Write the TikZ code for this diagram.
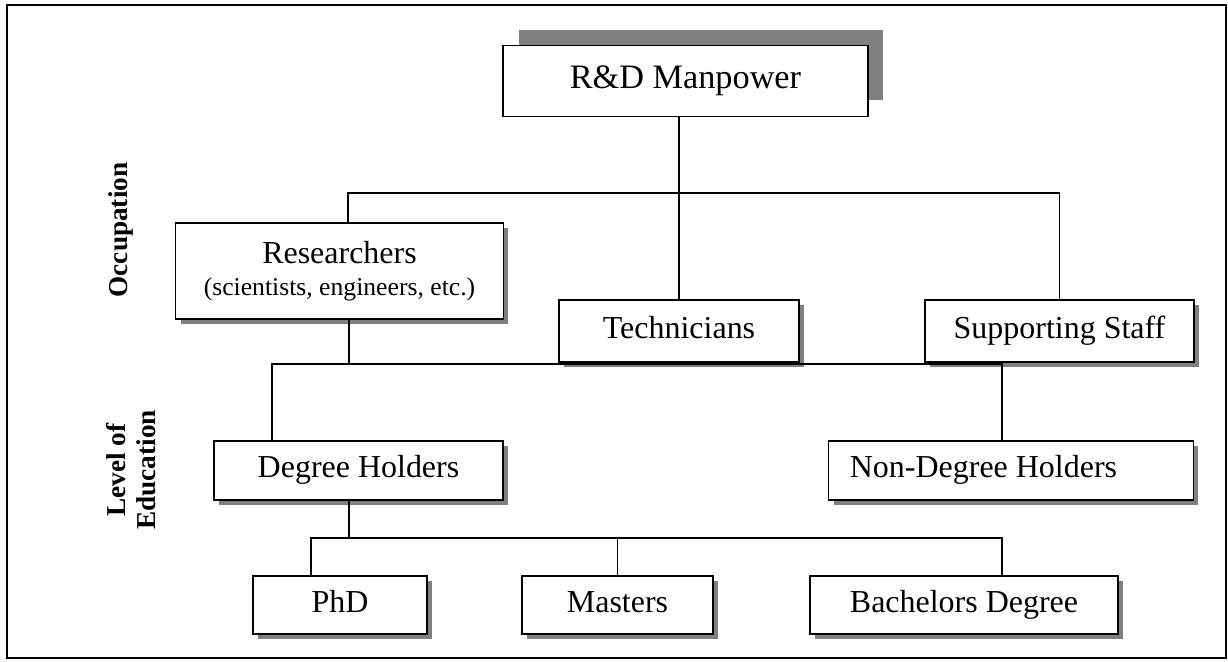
\documentclass[tikz,border=0pt]{standalone}
\usepackage{fontspec}
\setmainfont{Liberation Serif}
\usetikzlibrary{positioning, shadows}

\begin{document}
\begin{tikzpicture}[
		x=0.02cm, y=-0.02cm,
		boxbase/.style={draw, line width=0.9pt, fill=white, align=center, inner sep=0pt,
			font=\fontsize{18.2}{21}\selectfont},
		unit/.style={boxbase, drop shadow={shadow xshift=0.1cm, shadow yshift=-0.1cm, fill=black!50, opacity=1}},
		topunit/.style={boxbase, drop shadow={shadow xshift=0.31cm, shadow yshift=0.32cm, fill=black!50, opacity=1}},
		link/.style={line width=0.7pt},
		sidelabel/.style={rotate=90, align=center, font=\bfseries\fontsize{15.5}{17}\selectfont}
		]
		\useasboundingbox (0,0) rectangle (1228,662);
		% frame
		\draw[line width=1.1pt] (7,5) rectangle (1226,658);
		
		% top
		\node[topunit, minimum width=7.3cm, minimum height=1.42cm, font=\fontsize{19.5}{22}\selectfont] (rd) at (685.5,81) {\strut R\&D Manpower};
		
		% occupation level
		\node[unit, minimum width=6.56cm, minimum height=1.92cm] (res) at (339.5,271)
			{\strut Researchers\\[-3pt]{\fontsize{14.6}{17}\selectfont\strut(scientists, engineers, etc.)}};
		\node[unit, minimum width=4.8cm, minimum height=1.24cm] (tech) at (679,331) {\strut Technicians};
		\node[unit, minimum width=5.38cm, minimum height=1.24cm] (sup) at (1059.5,331) {\strut Supporting Staff};
		
		% education level
		\node[unit, minimum width=5.78cm, minimum height=1.18cm] (deg) at (358.5,470.5) {\strut Degree Holders};
		\node[unit, minimum width=7.3cm, minimum height=1.18cm] (nondeg) at (1011,470.5) {\strut Non-Degree Holders\hspace{1.1cm}};
		
		% degrees
		\node[unit, minimum width=3.48cm, minimum height=1.16cm] (phd) at (340,605) {\strut PhD};
		\node[unit, minimum width=3.82cm, minimum height=1.16cm] (mas) at (617.5,605) {\strut Masters};
		\node[unit, minimum width=6.16cm, minimum height=1.16cm] (bach) at (964,605) {\strut Bachelors Degree};
		
		% side labels
		\node[sidelabel] (occ) at (121,230) {Occupation};
		\node[sidelabel] (edu) at (131,470) {Level of\\Education};
		
		% connectors
		\coordinate (bus1) at (348,193);
		\coordinate (bus2) at (349,364);
		\coordinate (bus2l) at (272,364);
		\coordinate (bus2r) at (1002,364);
		\coordinate (bus3) at (349,538);
		\coordinate (bus3l) at (311,538);
		\coordinate (bus3r) at (1002,538);
		\draw[link] (rd.south -| tech) -- (tech.north);
		\draw[link] (bus1 |- res.north) -- (bus1) -| (sup.north);
		\draw[link] (res.south -| bus2) -- (bus2);
		\draw[link] (deg.north -| bus2l) -- (bus2l) -- (bus2r) -- (nondeg.north -| bus2r);
		\draw[link] (deg.south -| bus3) -- (bus3);
		\draw[link] (phd.north -| bus3l) -- (bus3l) -- (bus3r) -- (bach.north -| bus3r);
		\draw[link] (bus3 -| mas) -- (mas.north);
	\end{tikzpicture}
\end{document}
